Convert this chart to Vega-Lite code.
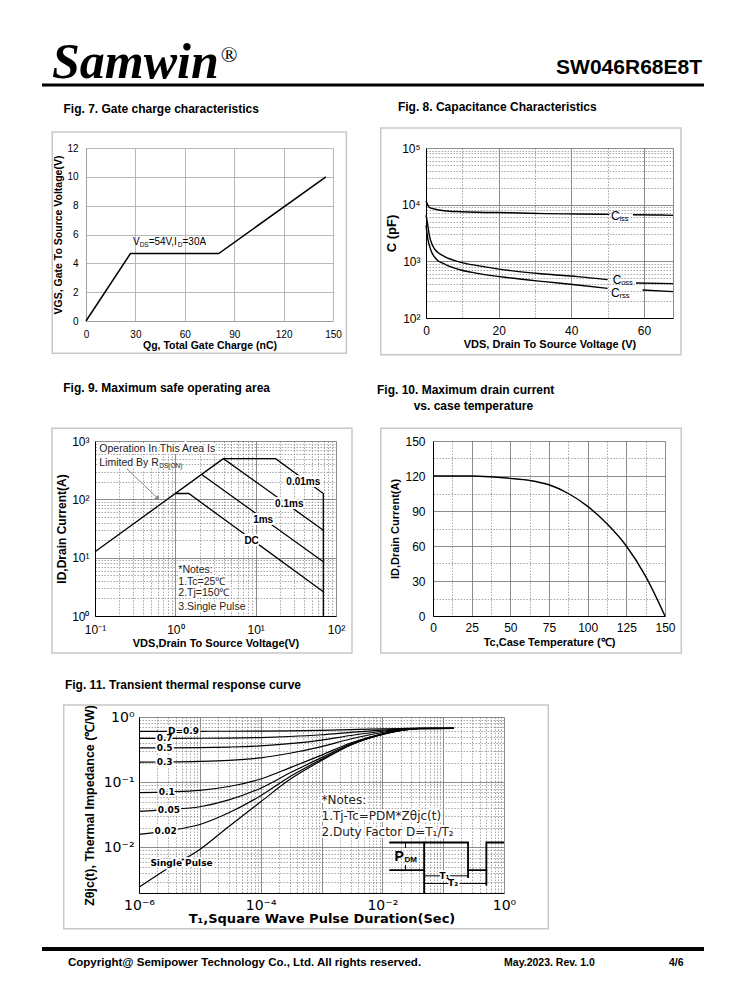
{
"$schema": "https://vega.github.io/schema/vega-lite/v6.json",
"background": "white",
"padding": {"left": 40, "top": 30, "right": 0, "bottom": 0},
"config": {
  "view": {"stroke": null},
  "font": "Liberation Sans",
  "title": {"font": "Liberation Sans", "fontSize": 12, "fontWeight": "bold", "anchor": "start", "frame": "bounds", "color": "#000"},
  "axis": {"ticks": false, "tickCount": 200, "labelFlush": false, "labelOverlap": false, "labelColor": "#000", "titleColor": "#000", "labelFont": "Liberation Sans", "titleFont": "Liberation Sans", "titleFontWeight": "bold", "domainColor": "#000", "domainWidth": 1, "gridColor": "#808080", "gridWidth": 0.8, "gridOpacity": 1},
  "text": {"font": "Liberation Sans", "color": "#000"}
},
"spacing": 12,
"vconcat": [
{
  "width": 662, "height": 55,
  "data": {"values": [{}]},
  "layer": [
    {"mark": {"type": "rule", "strokeWidth": 3, "color": "#000"},
     "encoding": {"x": {"datum": 0, "type": "quantitative", "scale": {"domain": [0, 1], "nice": false, "zero": false}, "axis": null}, "x2": {"datum": 1},
                  "y": {"datum": 0, "type": "quantitative", "scale": {"domain": [0, 1], "nice": false, "zero": false}, "axis": null}}},
    {"mark": {"type": "text", "text": "Samwin", "font": "Liberation Serif", "fontSize": 50, "fontStyle": "italic", "fontWeight": "bold", "align": "left", "baseline": "alphabetic"},
     "encoding": {"x": {"datum": 0.0151, "type": "quantitative", "axis": null}, "y": {"datum": 0.127, "type": "quantitative", "axis": null}}},
    {"mark": {"type": "text", "text": "®", "font": "Liberation Serif", "fontSize": 22, "align": "left", "baseline": "alphabetic"},
     "encoding": {"x": {"datum": 0.27, "type": "quantitative", "axis": null}, "y": {"datum": 0.418, "type": "quantitative", "axis": null}}},
    {"mark": {"type": "text", "text": "SW046R68E8T", "fontSize": 21, "fontWeight": "bold", "align": "right", "baseline": "alphabetic"},
     "encoding": {"x": {"datum": 0.997, "type": "quantitative", "axis": null}, "y": {"datum": 0.2, "type": "quantitative", "axis": null}}}
  ]
},
{
  "spacing": 25,
  "vconcat": [
  {
    "spacing": 8,
    "hconcat": [
    {"width": 1, "height": 1, "data": {"values": []}, "mark": "point"},
    {
      "width": 247, "height": 173,
      "title": {"text": "Fig. 7. Gate charge characteristics", "dx": 12, "offset": 15},
      "layer": [
        {"data": {"values": [{}]},
         "mark": {"type": "rect", "filled": false, "color": "#c8c8c8", "strokeWidth": 1.5},
         "encoding": {
           "x": {"datum": -20.5, "type": "quantitative", "scale": {"domain": [0, 150], "nice": false, "zero": false},
                 "axis": {"values": [0, 30, 60, 90, 120, 150], "format": "~g", "tickCount": 200, "grid": true, "gridColor": "#b8b8b8", "gridWidth": 1, "domainColor": "#a0a0a0", "labelFontSize": 10, "labelPadding": 8, "title": "Qg, Total Gate Charge (nC)", "titleFontSize": 10.5, "titlePadding": 1}},
           "x2": {"datum": 158.1},
           "y": {"datum": -2.24, "type": "quantitative", "scale": {"domain": [0, 12], "nice": false, "zero": false},
                 "axis": {"values": [0, 2, 4, 6, 8, 10, 12], "format": "~g", "tickCount": 200, "grid": true, "gridColor": "#b8b8b8", "gridWidth": 1, "domainColor": "#a0a0a0", "labelFontSize": 10, "labelPadding": 8, "title": "VGS,  Gate To  Source Voltage(V)", "titleFontSize": 10.5, "titlePadding": 3}},
           "y2": {"datum": 13.11}
         }},
        {"data": {"values": [{"q": 0, "v": 0}, {"q": 27, "v": 4.68}, {"q": 80.6, "v": 4.68}, {"q": 145.7, "v": 10}]},
         "mark": {"type": "line", "color": "#000", "strokeWidth": 1.5},
         "encoding": {"x": {"field": "q", "type": "quantitative"}, "y": {"field": "v", "type": "quantitative"}}},
        {"data": {"values": [{}]}, "mark": {"type": "text", "text": "V", "fontSize": 10, "align": "left", "baseline": "middle"},
         "encoding": {"x": {"datum": 28.5, "type": "quantitative"}, "y": {"datum": 5.45, "type": "quantitative"}}},
        {"data": {"values": [{}]}, "mark": {"type": "text", "text": "DS", "fontSize": 6.5, "align": "left", "baseline": "middle", "dx": 6.7, "dy": 3},
         "encoding": {"x": {"datum": 28.5, "type": "quantitative"}, "y": {"datum": 5.45, "type": "quantitative"}}},
        {"data": {"values": [{}]}, "mark": {"type": "text", "text": "=54V,I", "fontSize": 10, "align": "left", "baseline": "middle", "dx": 15.7},
         "encoding": {"x": {"datum": 28.5, "type": "quantitative"}, "y": {"datum": 5.45, "type": "quantitative"}}},
        {"data": {"values": [{}]}, "mark": {"type": "text", "text": "D", "fontSize": 6.5, "align": "left", "baseline": "middle", "dx": 44.9, "dy": 3},
         "encoding": {"x": {"datum": 28.5, "type": "quantitative"}, "y": {"datum": 5.45, "type": "quantitative"}}},
        {"data": {"values": [{}]}, "mark": {"type": "text", "text": "=30A", "fontSize": 10, "align": "left", "baseline": "middle", "dx": 49.6},
         "encoding": {"x": {"datum": 28.5, "type": "quantitative"}, "y": {"datum": 5.45, "type": "quantitative"}}}
      ]
    },
    {"width": 15, "height": 1, "data": {"values": []}, "mark": "point"},
    {
      "width": 247, "height": 170,
      "title": {"text": "Fig. 8. Capacitance Characteristics", "dx": 18, "offset": 13},
      "layer": [
        {"data": {"values": [{}]},
         "mark": {"type": "rect", "filled": false, "color": "#c8c8c8", "strokeWidth": 1.5},
         "encoding": {
           "x": {"datum": -12.47, "type": "quantitative", "scale": {"domain": [0, 68], "nice": false, "zero": false},
                 "axis": {"values": [0, 10, 20, 30, 40, 50, 60, 68], "format": "~g", "tickCount": 200, "grid": true,
                          "gridDash": {"condition": {"test": "datum.value == 10 || datum.value == 30 || datum.value == 50", "value": [1.5, 1.5]}, "value": []},
                          "gridColor": {"condition": {"test": "datum.value == 10 || datum.value == 30 || datum.value == 50", "value": "#909090"}, "value": "#707070"},
                          "labelExpr": "(datum.value == 0 || datum.value == 20 || datum.value == 40 || datum.value == 60) ? datum.label : ''",
                          "labelFontSize": 12, "labelPadding": 7, "title": "VDS, Drain To Source Voltage (V)", "titleFontSize": 11, "titlePadding": 2}},
           "x2": {"datum": 70.2},
           "y": {"datum": 22.51, "type": "quantitative", "scale": {"type": "log", "domain": [100, 100000], "nice": false},
                 "axis": {"values": [100,200,300,400,500,600,700,800,900,1000,2000,3000,4000,5000,6000,7000,8000,9000,10000,20000,30000,40000,50000,60000,70000,80000,90000,100000], "tickCount": 200, "grid": true,
                          "gridDash": {"condition": {"test": "abs(log(datum.value)/LN10 - round(log(datum.value)/LN10)) > 0.001", "value": [1.5, 1.5]}, "value": []},
                          "gridColor": {"condition": {"test": "abs(log(datum.value)/LN10 - round(log(datum.value)/LN10)) > 0.001", "value": "#909090"}, "value": "#707070"},
                          "labelExpr": "datum.value == 100 ? '10²' : datum.value == 1000 ? '10³' : datum.value == 10000 ? '10⁴' : datum.value == 100000 ? '10⁵' : ''",
                          "labelFontSize": 12, "labelPadding": 6, "title": "C (pF)", "titleFontSize": 13, "titlePadding": 3}},
           "y2": {"datum": 225400}
         }},
        {"data": {"values": [
          {"seg": "Ciss1", "v": 0, "c": 11700}, {"seg": "Ciss1", "v": 0.9, "c": 8970}, {"seg": "Ciss1", "v": 2.3, "c": 8400}, {"seg": "Ciss1", "v": 5, "c": 7830}, {"seg": "Ciss1", "v": 9.6, "c": 7520}, {"seg": "Ciss1", "v": 14.2, "c": 7330}, {"seg": "Ciss1", "v": 23.4, "c": 7200}, {"seg": "Ciss1", "v": 32.6, "c": 6940}, {"seg": "Ciss1", "v": 41.7, "c": 6850}, {"seg": "Ciss1", "v": 50.5, "c": 6750},
          {"seg": "Ciss2", "v": 57, "c": 6650}, {"seg": "Ciss2", "v": 64.7, "c": 6570}, {"seg": "Ciss2", "v": 68, "c": 6480},
          {"seg": "Coss1", "v": 0, "c": 6500}, {"seg": "Coss1", "v": 0.3, "c": 5200}, {"seg": "Coss1", "v": 0.9, "c": 2900}, {"seg": "Coss1", "v": 1.8, "c": 1900}, {"seg": "Coss1", "v": 3.2, "c": 1440}, {"seg": "Coss1", "v": 5, "c": 1225}, {"seg": "Coss1", "v": 9.6, "c": 960}, {"seg": "Coss1", "v": 14.2, "c": 840}, {"seg": "Coss1", "v": 18.8, "c": 752}, {"seg": "Coss1", "v": 23.4, "c": 684}, {"seg": "Coss1", "v": 32.6, "c": 597}, {"seg": "Coss1", "v": 41.7, "c": 537}, {"seg": "Coss1", "v": 50, "c": 475},
          {"seg": "Coss2", "v": 57.8, "c": 415}, {"seg": "Coss2", "v": 68, "c": 404},
          {"seg": "Crss1", "v": 0, "c": 4300}, {"seg": "Crss1", "v": 0.5, "c": 2480}, {"seg": "Crss1", "v": 1.4, "c": 1540}, {"seg": "Crss1", "v": 2.8, "c": 1100}, {"seg": "Crss1", "v": 5, "c": 900}, {"seg": "Crss1", "v": 9.6, "c": 703}, {"seg": "Crss1", "v": 14.2, "c": 614}, {"seg": "Crss1", "v": 23.4, "c": 508}, {"seg": "Crss1", "v": 32.6, "c": 438}, {"seg": "Crss1", "v": 41.7, "c": 382}, {"seg": "Crss1", "v": 50, "c": 334},
          {"seg": "Crss2", "v": 59.6, "c": 312}, {"seg": "Crss2", "v": 68, "c": 292}
         ]},
         "mark": {"type": "line", "color": "#000", "strokeWidth": 1.4, "interpolate": "monotone"},
         "encoding": {"x": {"field": "v", "type": "quantitative"}, "y": {"field": "c", "type": "quantitative"}, "detail": {"field": "seg"}}},
        {"data": {"values": [{"v": 50.9, "c": 6220, "t": "C", "u": "iss"}, {"v": 51.4, "c": 474, "t": "C", "u": "oss"}, {"v": 50.9, "c": 275, "t": "C", "u": "rss"}]},
         "layer": [
           {"mark": {"type": "text", "fontSize": 12, "align": "left", "baseline": "middle"},
            "encoding": {"x": {"field": "v", "type": "quantitative"}, "y": {"field": "c", "type": "quantitative"}, "text": {"field": "t"}}},
           {"mark": {"type": "text", "fontSize": 7.5, "align": "left", "baseline": "middle", "dx": 8.5, "dy": 3},
            "encoding": {"x": {"field": "v", "type": "quantitative"}, "y": {"field": "c", "type": "quantitative"}, "text": {"field": "u"}}}
         ]}
      ]
    }
    ]
  },
  {
    "spacing": 8,
    "hconcat": [
    {"width": 1, "height": 1, "data": {"values": []}, "mark": "point"},
    {
      "width": 241, "height": 175,
      "title": {"text": "Fig. 9. Maximum safe operating area", "dx": 12, "offset": 33},
      "layer": [
        {"data": {"values": [{}]},
         "mark": {"type": "rect", "filled": false, "color": "#c8c8c8", "strokeWidth": 1.5},
         "encoding": {
           "x": {"datum": 0.02915, "type": "quantitative", "scale": {"type": "log", "domain": [0.1, 100], "nice": false},
                 "axis": {"values": [0.1,0.2,0.3,0.4,0.5,0.6,0.7,0.8,0.9,1,2,3,4,5,6,7,8,9,10,20,30,40,50,60,70,80,90,100], "tickCount": 200, "grid": true,
                          "gridDash": {"condition": {"test": "abs(log(datum.value)/LN10 - round(log(datum.value)/LN10)) > 0.001", "value": [1.5, 1.5]}, "value": []},
                          "gridColor": {"condition": {"test": "abs(log(datum.value)/LN10 - round(log(datum.value)/LN10)) > 0.001", "value": "#909090"}, "value": "#707070"},
                          "labelExpr": "datum.value == 0.1 ? '10⁻¹' : datum.value == 1 ? '10⁰' : datum.value == 10 ? '10¹' : datum.value == 100 ? '10²' : ''",
                          "labelFontSize": 12, "labelPadding": 8, "title": "VDS,Drain To Source Voltage(V)", "titleFontSize": 11, "titlePadding": 2}},
           "x2": {"datum": 158.2},
           "y": {"datum": 0.2321, "type": "quantitative", "scale": {"type": "log", "domain": [1, 1000], "nice": false},
                 "axis": {"values": [1,2,3,4,5,6,7,8,9,10,20,30,40,50,60,70,80,90,100,200,300,400,500,600,700,800,900,1000], "tickCount": 200, "grid": true,
                          "gridDash": {"condition": {"test": "abs(log(datum.value)/LN10 - round(log(datum.value)/LN10)) > 0.001", "value": [1.5, 1.5]}, "value": []},
                          "gridColor": {"condition": {"test": "abs(log(datum.value)/LN10 - round(log(datum.value)/LN10)) > 0.001", "value": "#909090"}, "value": "#707070"},
                          "labelExpr": "datum.value == 1 ? '10⁰' : datum.value == 10 ? '10¹' : datum.value == 100 ? '10²' : datum.value == 1000 ? '10³' : ''",
                          "labelFontSize": 12, "labelPadding": 6, "title": "ID,Drain Current(A)", "titleFontSize": 12, "titlePadding": 3}},
           "y2": {"datum": 1651}
         }},
        {"data": {"values": [
          {"s": "rds", "i": 0, "v": 0.1, "a": 12.6}, {"s": "rds", "i": 1, "v": 3.96, "a": 499},
          {"s": "t001", "i": 0, "v": 3.96, "a": 499}, {"s": "t001", "i": 1, "v": 17.7, "a": 499}, {"s": "t001", "i": 2, "v": 69.5, "a": 126}, {"s": "t001", "i": 3, "v": 69.5, "a": 1},
          {"s": "t01", "i": 0, "v": 3.96, "a": 499}, {"s": "t01", "i": 1, "v": 69.5, "a": 29.6},
          {"s": "t1", "i": 0, "v": 2.13, "a": 266}, {"s": "t1", "i": 1, "v": 69.5, "a": 8.5},
          {"s": "dc", "i": 0, "v": 1, "a": 126}, {"s": "dc", "i": 1, "v": 1.47, "a": 126}, {"s": "dc", "i": 2, "v": 69.5, "a": 2.61}
         ]},
         "mark": {"type": "line", "color": "#000", "strokeWidth": 1.3},
         "encoding": {"x": {"field": "v", "type": "quantitative"}, "y": {"field": "a", "type": "quantitative"}, "detail": {"field": "s"}, "order": {"field": "i"}}},
        {"data": {"values": [{"i": 0, "v": 0.248, "a": 336}, {"i": 1, "v": 0.597, "a": 106}]},
         "mark": {"type": "line", "color": "#8a8a8a", "strokeWidth": 1},
         "encoding": {"x": {"field": "v", "type": "quantitative"}, "y": {"field": "a", "type": "quantitative"}, "order": {"field": "i"}}},
        {"data": {"values": [{"v": 0.597, "a": 106}]},
         "mark": {"type": "point", "shape": "triangle", "filled": true, "color": "#8a8a8a", "size": 28, "angle": 134, "opacity": 1},
         "encoding": {"x": {"field": "v", "type": "quantitative"}, "y": {"field": "a", "type": "quantitative"}}},
        {"data": {"values": [{"v": 0.1132, "a": 720, "t": "Operation In This Area Is"}, {"v": 0.1132, "a": 420, "t": "Limited By R"}, {"v": 1.09, "a": 6.1, "t": "*Notes:"}, {"v": 1.09, "a": 3.86, "t": "1.Tc=25℃"}, {"v": 1.09, "a": 2.44, "t": "2.Tj=150℃"}, {"v": 1.09, "a": 1.44, "t": "3.Single Pulse"}]},
         "layer": [
           {"mark": {"type": "text", "fontSize": 10.5, "align": "left", "baseline": "middle", "color": "white", "stroke": "white", "strokeWidth": 4},
            "encoding": {"x": {"field": "v", "type": "quantitative"}, "y": {"field": "a", "type": "quantitative"}, "text": {"field": "t"}}},
           {"mark": {"type": "text", "fontSize": 10.5, "align": "left", "baseline": "middle", "color": "#222"},
            "encoding": {"x": {"field": "v", "type": "quantitative"}, "y": {"field": "a", "type": "quantitative"}, "text": {"field": "t"}}}
         ]},
        {"data": {"values": [{"v": 0.1132, "a": 420, "t": "DS(ON)"}]},
         "mark": {"type": "text", "fontSize": 6.5, "align": "left", "baseline": "middle", "dx": 60, "dy": 3, "color": "#222"},
         "encoding": {"x": {"field": "v", "type": "quantitative"}, "y": {"field": "a", "type": "quantitative"}, "text": {"field": "t"}}},
        {"data": {"values": [{"v": 39.2, "a": 199, "t": "0.01ms"}, {"v": 26.2, "a": 82.4, "t": "0.1ms"}, {"v": 12.4, "a": 45, "t": "1ms"}, {"v": 8.9, "a": 19.2, "t": "DC"}]},
         "layer": [
           {"mark": {"type": "text", "fontSize": 10, "fontWeight": "bold", "align": "center", "baseline": "middle", "color": "white", "stroke": "white", "strokeWidth": 4},
            "encoding": {"x": {"field": "v", "type": "quantitative"}, "y": {"field": "a", "type": "quantitative"}, "text": {"field": "t"}}},
           {"mark": {"type": "text", "fontSize": 10, "fontWeight": "bold", "align": "center", "baseline": "middle"},
            "encoding": {"x": {"field": "v", "type": "quantitative"}, "y": {"field": "a", "type": "quantitative"}, "text": {"field": "t"}}}
         ]}
      ]
    },
    {"width": 7, "height": 1, "data": {"values": []}, "mark": "point"},
    {
      "width": 232, "height": 175,
      "title": {"text": ["Fig. 10. Maximum drain current", "\u200b\u00a0\u00a0\u00a0\u00a0\u00a0\u00a0\u00a0\u00a0\u00a0\u00a0\u00a0vs. case temperature"], "dx": -3, "offset": 15, "lineHeight": 16},
      "layer": [
        {"data": {"values": [{}]},
         "mark": {"type": "rect", "filled": false, "color": "#c8c8c8", "strokeWidth": 1.5},
         "encoding": {
           "x": {"datum": -33.8, "type": "quantitative", "scale": {"domain": [0, 150], "nice": false, "zero": false},
                 "axis": {"values": [0,12.5,25,37.5,50,62.5,75,87.5,100,112.5,125,137.5,150], "format": "~g", "tickCount": 200, "grid": true,
                          "gridDash": {"condition": {"test": "datum.value % 25 != 0", "value": [1.5, 1.5]}, "value": []},
                          "gridColor": {"condition": {"test": "datum.value % 25 != 0", "value": "#909090"}, "value": "#707070"},
                          "labelExpr": "datum.value % 25 == 0 ? datum.label : ''",
                          "labelFontSize": 12, "labelPadding": 6, "title": "Tc,Case Temperature (℃)", "titleFontSize": 11, "titlePadding": 3}},
           "x2": {"datum": 160.5},
           "y": {"datum": -31.7, "type": "quantitative", "scale": {"domain": [0, 150], "nice": false, "zero": false},
                 "axis": {"values": [0,15,30,45,60,75,90,105,120,135,150], "format": "~g", "tickCount": 200, "grid": true,
                          "gridDash": {"condition": {"test": "datum.value % 30 != 0", "value": [1.5, 1.5]}, "value": []},
                          "gridColor": {"condition": {"test": "datum.value % 30 != 0", "value": "#909090"}, "value": "#707070"},
                          "labelExpr": "datum.value % 30 == 0 ? datum.label : ''",
                          "labelFontSize": 12, "labelPadding": 8, "title": "ID,Drain Current(A)", "titleFontSize": 11, "titlePadding": 4}},
           "y2": {"datum": 160.9}
         }},
        {"data": {"values": [
          {"t": 0, "i": 120}, {"t": 12.5, "i": 120}, {"t": 25, "i": 120}, {"t": 37.5, "i": 119.3}, {"t": 50, "i": 118}, {"t": 62.5, "i": 116.2}, {"t": 75, "i": 112.5}, {"t": 87.5, "i": 105}, {"t": 100, "i": 94}, {"t": 112.5, "i": 79}, {"t": 125, "i": 60}, {"t": 137.5, "i": 34}, {"t": 150, "i": 0}
         ]},
         "mark": {"type": "line", "color": "#000", "strokeWidth": 1.4, "interpolate": "monotone"},
         "encoding": {"x": {"field": "t", "type": "quantitative"}, "y": {"field": "i", "type": "quantitative"}}}
      ]
    }
    ]
  },
  {
    "spacing": 19,
    "hconcat": [
    {"width": 1, "height": 1, "data": {"values": []}, "mark": "point"},
    {
      "width": 365, "height": 176,
      "title": {"text": "Fig. 11. Transient thermal response curve", "dx": 2, "offset": 12},
      "layer": [
        {"data": {"values": [{}]},
         "mark": {"type": "rect", "filled": false, "color": "#c8c8c8", "strokeWidth": 1.5},
         "encoding": {
           "x": {"datum": 5.785e-8, "type": "quantitative", "scale": {"type": "log", "domain": [1e-6, 1], "nice": false},
                 "axis": {"values": [1e-6,2e-6,3e-6,4e-6,5e-6,6e-6,7e-6,8e-6,9e-6,1e-5,2e-5,3e-5,4e-5,5e-5,6e-5,7e-5,8e-5,9e-5,1e-4,2e-4,3e-4,4e-4,5e-4,6e-4,7e-4,8e-4,9e-4,1e-3,2e-3,3e-3,4e-3,5e-3,6e-3,7e-3,8e-3,9e-3,0.01,0.02,0.03,0.04,0.05,0.06,0.07,0.08,0.09,0.1,0.2,0.3,0.4,0.5,0.6,0.7,0.8,0.9,1], "tickCount": 200, "grid": true,
                          "gridDash": {"condition": {"test": "abs(log(datum.value)/LN10 - round(log(datum.value)/LN10)) > 0.001", "value": [1.5, 1.5]}, "value": []},
                          "gridColor": {"condition": {"test": "abs(log(datum.value)/LN10 - round(log(datum.value)/LN10)) > 0.001", "value": "#909090"}, "value": "#707070"},
                          "labelExpr": "datum.value == 0.000001 ? '10⁻⁶' : datum.value == 0.0001 ? '10⁻⁴' : datum.value == 0.01 ? '10⁻²' : datum.value == 1 ? '10⁰' : ''",
                          "labelFont": "DejaVu Sans", "labelFontSize": 14, "labelPadding": 5, "title": "T₁,Square Wave Pulse Duration(Sec)", "titleFont": "DejaVu Sans", "titleFontSize": 13, "titlePadding": 0}},
           "x2": {"datum": 5.35},
           "y": {"datum": 0.000567, "type": "quantitative", "scale": {"type": "log", "domain": [0.002, 1], "nice": false},
                 "axis": {"values": [0.002,0.003,0.004,0.005,0.006,0.007,0.008,0.009,0.01,0.02,0.03,0.04,0.05,0.06,0.07,0.08,0.09,0.1,0.2,0.3,0.4,0.5,0.6,0.7,0.8,0.9,1], "tickCount": 200, "grid": true,
                          "gridDash": {"condition": {"test": "abs(log(datum.value)/LN10 - round(log(datum.value)/LN10)) > 0.001", "value": [1.5, 1.5]}, "value": []},
                          "gridColor": {"condition": {"test": "abs(log(datum.value)/LN10 - round(log(datum.value)/LN10)) > 0.001", "value": "#909090"}, "value": "#707070"},
                          "labelExpr": "datum.value == 1 ? '10⁰' : datum.value == 0.1 ? '10⁻¹' : datum.value == 0.01 ? '10⁻²' : ''",
                          "labelFont": "DejaVu Sans", "labelFontSize": 14, "labelPadding": 5, "title": "Zθjc(t), Thermal Impedance (℃/W)", "titleFontSize": 12.5, "titlePadding": 7}},
           "y2": {"datum": 1.528}
         }},
        {"data": {"values": [
          {"d": "S", "t": 1e-6, "z": 0.00245}, {"d": "S", "t": 3e-6, "z": 0.0048}, {"d": "S", "t": 1e-5, "z": 0.0093}, {"d": "S", "t": 3e-5, "z": 0.021}, {"d": "S", "t": 1e-4, "z": 0.05}, {"d": "S", "t": 3e-4, "z": 0.11}, {"d": "S", "t": 1e-3, "z": 0.215}, {"d": "S", "t": 3e-3, "z": 0.37}, {"d": "S", "t": 0.01, "z": 0.54}, {"d": "S", "t": 0.02, "z": 0.62}, {"d": "S", "t": 0.04, "z": 0.665}, {"d": "S", "t": 0.15, "z": 0.67},
          {"d": "0.02", "t": 1e-6, "z": 0.0158}, {"d": "0.02", "t": 3e-6, "z": 0.0181}, {"d": "0.02", "t": 1e-5, "z": 0.0225}, {"d": "0.02", "t": 3e-5, "z": 0.034}, {"d": "0.02", "t": 1e-4, "z": 0.062}, {"d": "0.02", "t": 3e-4, "z": 0.121}, {"d": "0.02", "t": 1e-3, "z": 0.224}, {"d": "0.02", "t": 3e-3, "z": 0.376}, {"d": "0.02", "t": 0.01, "z": 0.543}, {"d": "0.02", "t": 0.02, "z": 0.621}, {"d": "0.02", "t": 0.04, "z": 0.665}, {"d": "0.02", "t": 0.15, "z": 0.67},
          {"d": "0.05", "t": 1e-6, "z": 0.0358}, {"d": "0.05", "t": 3e-6, "z": 0.038}, {"d": "0.05", "t": 1e-5, "z": 0.042}, {"d": "0.05", "t": 3e-5, "z": 0.0535}, {"d": "0.05", "t": 1e-4, "z": 0.081}, {"d": "0.05", "t": 3e-4, "z": 0.138}, {"d": "0.05", "t": 1e-3, "z": 0.238}, {"d": "0.05", "t": 3e-3, "z": 0.385}, {"d": "0.05", "t": 0.01, "z": 0.547}, {"d": "0.05", "t": 0.02, "z": 0.623}, {"d": "0.05", "t": 0.04, "z": 0.665}, {"d": "0.05", "t": 0.15, "z": 0.67},
          {"d": "0.1", "t": 1e-6, "z": 0.069}, {"d": "0.1", "t": 3e-6, "z": 0.071}, {"d": "0.1", "t": 1e-5, "z": 0.075}, {"d": "0.1", "t": 3e-5, "z": 0.086}, {"d": "0.1", "t": 1e-4, "z": 0.112}, {"d": "0.1", "t": 3e-4, "z": 0.166}, {"d": "0.1", "t": 1e-3, "z": 0.26}, {"d": "0.1", "t": 3e-3, "z": 0.4}, {"d": "0.1", "t": 0.01, "z": 0.553}, {"d": "0.1", "t": 0.02, "z": 0.625}, {"d": "0.1", "t": 0.04, "z": 0.666}, {"d": "0.1", "t": 0.15, "z": 0.67},
          {"d": "0.3", "t": 1e-6, "z": 0.203}, {"d": "0.3", "t": 3e-6, "z": 0.204}, {"d": "0.3", "t": 1e-5, "z": 0.208}, {"d": "0.3", "t": 3e-5, "z": 0.216}, {"d": "0.3", "t": 1e-4, "z": 0.236}, {"d": "0.3", "t": 3e-4, "z": 0.278}, {"d": "0.3", "t": 1e-3, "z": 0.352}, {"d": "0.3", "t": 3e-3, "z": 0.46}, {"d": "0.3", "t": 0.01, "z": 0.579}, {"d": "0.3", "t": 0.02, "z": 0.635}, {"d": "0.3", "t": 0.04, "z": 0.667}, {"d": "0.3", "t": 0.15, "z": 0.67},
          {"d": "0.5", "t": 1e-6, "z": 0.336}, {"d": "0.5", "t": 3e-6, "z": 0.337}, {"d": "0.5", "t": 1e-5, "z": 0.34}, {"d": "0.5", "t": 3e-5, "z": 0.346}, {"d": "0.5", "t": 1e-4, "z": 0.36}, {"d": "0.5", "t": 3e-4, "z": 0.39}, {"d": "0.5", "t": 1e-3, "z": 0.443}, {"d": "0.5", "t": 3e-3, "z": 0.52}, {"d": "0.5", "t": 0.01, "z": 0.605}, {"d": "0.5", "t": 0.02, "z": 0.645}, {"d": "0.5", "t": 0.04, "z": 0.667}, {"d": "0.5", "t": 0.15, "z": 0.67},
          {"d": "0.7", "t": 1e-6, "z": 0.47}, {"d": "0.7", "t": 3e-6, "z": 0.47}, {"d": "0.7", "t": 1e-5, "z": 0.472}, {"d": "0.7", "t": 3e-5, "z": 0.475}, {"d": "0.7", "t": 1e-4, "z": 0.484}, {"d": "0.7", "t": 3e-4, "z": 0.502}, {"d": "0.7", "t": 1e-3, "z": 0.534}, {"d": "0.7", "t": 3e-3, "z": 0.58}, {"d": "0.7", "t": 0.01, "z": 0.631}, {"d": "0.7", "t": 0.02, "z": 0.655}, {"d": "0.7", "t": 0.04, "z": 0.669}, {"d": "0.7", "t": 0.15, "z": 0.67},
          {"d": "0.9", "t": 1e-6, "z": 0.603}, {"d": "0.9", "t": 3e-6, "z": 0.603}, {"d": "0.9", "t": 1e-5, "z": 0.604}, {"d": "0.9", "t": 3e-5, "z": 0.605}, {"d": "0.9", "t": 1e-4, "z": 0.608}, {"d": "0.9", "t": 3e-4, "z": 0.614}, {"d": "0.9", "t": 1e-3, "z": 0.625}, {"d": "0.9", "t": 3e-3, "z": 0.64}, {"d": "0.9", "t": 0.01, "z": 0.657}, {"d": "0.9", "t": 0.02, "z": 0.665}, {"d": "0.9", "t": 0.04, "z": 0.669}, {"d": "0.9", "t": 0.15, "z": 0.67}
         ]},
         "mark": {"type": "line", "color": "#000", "strokeWidth": 1.2, "interpolate": "monotone"},
         "encoding": {"x": {"field": "t", "type": "quantitative"}, "y": {"field": "z", "type": "quantitative"}, "detail": {"field": "d"}}},
        {"data": {"values": [
          {"seg": "w", "i": 0, "t": 0.013, "z": 0.00449}, {"seg": "w", "i": 1, "t": 0.0486, "z": 0.00449}, {"seg": "w", "i": 2, "t": 0.0486, "z": 0.0119}, {"seg": "w", "i": 3, "t": 0.2564, "z": 0.0119}, {"seg": "w", "i": 4, "t": 0.2564, "z": 0.00449}, {"seg": "w", "i": 5, "t": 0.513, "z": 0.00449}, {"seg": "w", "i": 6, "t": 0.513, "z": 0.0119}, {"seg": "w", "i": 7, "t": 1, "z": 0.0119},
          {"seg": "top", "i": 0, "t": 0.013, "z": 0.0119}, {"seg": "top", "i": 1, "t": 0.0486, "z": 0.0119},
          {"seg": "e1", "i": 0, "t": 0.0486, "z": 0.002}, {"seg": "e1", "i": 1, "t": 0.0486, "z": 0.00449},
          {"seg": "e2", "i": 0, "t": 0.2564, "z": 0.00449}, {"seg": "e2", "i": 1, "t": 0.2564, "z": 0.0034},
          {"seg": "e3", "i": 0, "t": 0.513, "z": 0.0026}, {"seg": "e3", "i": 1, "t": 0.513, "z": 0.00449}
         ]},
         "mark": {"type": "line", "color": "#000", "strokeWidth": 1.8},
         "encoding": {"x": {"field": "t", "type": "quantitative"}, "y": {"field": "z", "type": "quantitative"}, "detail": {"field": "seg"}, "order": {"field": "i"}}},
        {"data": {"values": [
          {"seg": "T1", "i": 0, "t": 0.0486, "z": 0.00367}, {"seg": "T1", "i": 1, "t": 0.2564, "z": 0.00367},
          {"seg": "T2", "i": 0, "t": 0.0486, "z": 0.0028}, {"seg": "T2", "i": 1, "t": 0.513, "z": 0.0028},
          {"seg": "A", "i": 0, "t": 0.024, "z": 0.0119}, {"seg": "A", "i": 1, "t": 0.024, "z": 0.0098},
          {"seg": "B", "i": 0, "t": 0.024, "z": 0.0054}, {"seg": "B", "i": 1, "t": 0.024, "z": 0.00449}
         ]},
         "mark": {"type": "line", "color": "#000", "strokeWidth": 1},
         "encoding": {"x": {"field": "t", "type": "quantitative"}, "y": {"field": "z", "type": "quantitative"}, "detail": {"field": "seg"}, "order": {"field": "i"}}},
        {"data": {"values": [{"t": 5.4e-6, "z": 0.603, "lab": "D=0.9"}, {"t": 2.64e-6, "z": 0.47, "lab": "0.7"}, {"t": 2.64e-6, "z": 0.337, "lab": "0.5"}, {"t": 2.64e-6, "z": 0.204, "lab": "0.3"}, {"t": 2.85e-6, "z": 0.071, "lab": "0.1"}, {"t": 3.1e-6, "z": 0.038, "lab": "0.05"}, {"t": 2.75e-6, "z": 0.018, "lab": "0.02"}, {"t": 5e-6, "z": 0.0058, "lab": "Single Pulse"}, {"t": 0.105, "z": 0.00367, "lab": "T₁"}, {"t": 0.146, "z": 0.0028, "lab": "T₂"}]},
         "layer": [
           {"mark": {"type": "text", "font": "DejaVu Sans", "fontSize": 9, "fontWeight": "bold", "align": "center", "baseline": "middle", "color": "white", "stroke": "white", "strokeWidth": 3.5},
            "encoding": {"x": {"field": "t", "type": "quantitative"}, "y": {"field": "z", "type": "quantitative"}, "text": {"field": "lab"}}},
           {"mark": {"type": "text", "font": "DejaVu Sans", "fontSize": 9, "fontWeight": "bold", "align": "center", "baseline": "middle"},
            "encoding": {"x": {"field": "t", "type": "quantitative"}, "y": {"field": "z", "type": "quantitative"}, "text": {"field": "lab"}}}
         ]},
        {"data": {"values": [{"t": 0.001, "z": 0.053, "lab": "*Notes:"}, {"t": 0.001, "z": 0.0305, "lab": "1.Tj-Tc=PDM*Zθjc(t)"}, {"t": 0.001, "z": 0.0175, "lab": "2.Duty Factor D=T₁/T₂"}]},
         "layer": [
           {"mark": {"type": "text", "font": "DejaVu Sans", "fontSize": 12, "align": "left", "baseline": "middle", "color": "white", "stroke": "white", "strokeWidth": 4},
            "encoding": {"x": {"field": "t", "type": "quantitative"}, "y": {"field": "z", "type": "quantitative"}, "text": {"field": "lab"}}},
           {"mark": {"type": "text", "font": "DejaVu Sans", "fontSize": 12, "align": "left", "baseline": "middle", "color": "#222"},
            "encoding": {"x": {"field": "t", "type": "quantitative"}, "y": {"field": "z", "type": "quantitative"}, "text": {"field": "lab"}}}
         ]},
        {"data": {"values": [{"t": 0.0158, "z": 0.00718, "p": "P", "s": "DM"}]},
         "layer": [
           {"mark": {"type": "text", "fontSize": 14, "fontWeight": "bold", "align": "left", "baseline": "middle"},
            "encoding": {"x": {"field": "t", "type": "quantitative"}, "y": {"field": "z", "type": "quantitative"}, "text": {"field": "p"}}},
           {"mark": {"type": "text", "fontSize": 8, "fontWeight": "bold", "align": "left", "baseline": "middle", "dx": 10, "dy": 3},
            "encoding": {"x": {"field": "t", "type": "quantitative"}, "y": {"field": "z", "type": "quantitative"}, "text": {"field": "s"}}}
         ]}
      ]
    }
    ]
  }
  ]
},
{
  "width": 662, "height": 40,
  "data": {"values": [{}]},
  "layer": [
    {"mark": {"type": "rule", "strokeWidth": 4, "color": "#000"},
     "encoding": {"x": {"datum": 0, "type": "quantitative", "scale": {"domain": [0, 1], "nice": false, "zero": false}, "axis": null}, "x2": {"datum": 1},
                  "y": {"datum": 0.825, "type": "quantitative", "scale": {"domain": [0, 1], "nice": false, "zero": false}, "axis": null}}},
    {"mark": {"type": "text", "text": "Copyright@ Semipower Technology Co., Ltd. All rights reserved.", "fontSize": 11.5, "fontWeight": "bold", "align": "left", "baseline": "middle"},
     "encoding": {"x": {"datum": 0.0393, "type": "quantitative", "axis": null}, "y": {"datum": 0.475, "type": "quantitative", "axis": null}}},
    {"mark": {"type": "text", "text": "May.2023. Rev. 1.0", "fontSize": 10.5, "fontWeight": "bold", "align": "left", "baseline": "middle"},
     "encoding": {"x": {"datum": 0.698, "type": "quantitative", "axis": null}, "y": {"datum": 0.475, "type": "quantitative", "axis": null}}},
    {"mark": {"type": "text", "text": "4/6", "fontSize": 10.5, "fontWeight": "bold", "align": "left", "baseline": "middle"},
     "encoding": {"x": {"datum": 0.947, "type": "quantitative", "axis": null}, "y": {"datum": 0.475, "type": "quantitative", "axis": null}}}
  ]
}
]
}
